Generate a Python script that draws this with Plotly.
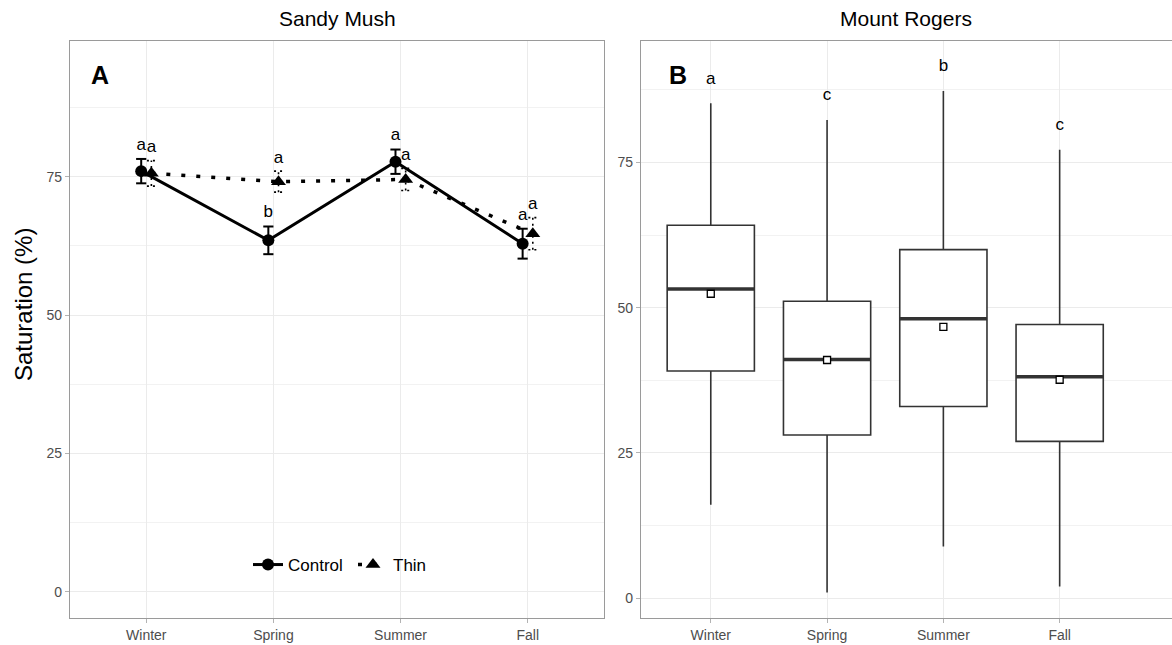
import plotly.graph_objects as go

# ---------------- data ----------------
seasons = ["Winter", "Spring", "Summer", "Fall"]

# Panel A: Sandy Mush (mean ± SE)
control_mean = [76.0, 63.5, 77.7, 62.9]
control_se = [2.2, 2.5, 2.2, 2.7]
control_letters = ["a", "b", "a", "a"]
thin_mean = [75.6, 74.1, 74.5, 64.7]
thin_se = [2.3, 1.9, 2.0, 2.9]
thin_letters = ["a", "a", "a", "a"]

# Panel B: Mount Rogers (box stats)
box_lower = [16.1, 1.0, 8.9, 2.0]
box_q1 = [39.1, 28.1, 33.0, 27.0]
box_median = [53.2, 41.1, 48.1, 38.1]
box_q3 = [64.2, 51.1, 60.0, 47.1]
box_upper = [85.2, 82.3, 87.3, 77.2]
box_mean = [52.4, 41.0, 46.7, 37.6]
box_letters = ["a", "c", "b", "c"]

# ---------------- layout constants ----------------
W, H = 1172, 645
FONT = "Liberation Sans, Arial, sans-serif"
DARK = "#333333"
GRID = "#ebebeb"
BORDER = "#9a9a9a"
TICKC = "#4d4d4d"
pos = list(range(len(seasons)))
dodge = 0.04
box_w = 0.75

ctrl_x = [p - dodge for p in pos]
thin_x = [p + dodge for p in pos]


def errbar_path(xs, ms, ses, cap):
    px, py = [], []
    for x, m, s in zip(xs, ms, ses):
        px += [x, x, None, x - cap, x + cap, None, x - cap, x + cap, None]
        py += [m - s, m + s, None, m + s, m + s, None, m - s, m - s, None]
    return px, py


fig = go.Figure()

# ---- Panel A ----
ex, ey = errbar_path(thin_x, thin_mean, thin_se, 0.035)
fig.add_trace(go.Scatter(x=ex, y=ey, mode="lines", line=dict(color="black", width=1.6, dash="2px,4px"),
                         showlegend=False, hoverinfo="skip", xaxis="x", yaxis="y"))
ex, ey = errbar_path(ctrl_x, control_mean, control_se, 0.04)
fig.add_trace(go.Scatter(x=ex, y=ey, mode="lines", line=dict(color="black", width=2),
                         showlegend=False, hoverinfo="skip", xaxis="x", yaxis="y"))

fig.add_trace(go.Scatter(x=thin_x, y=thin_mean, mode="lines+markers", name="Thin",
                         line=dict(color="black", width=3.5, dash="4px,11px"),
                         marker=dict(symbol="triangle-up", size=13, color="black"),
                         xaxis="x", yaxis="y"))
fig.add_trace(go.Scatter(x=ctrl_x, y=control_mean, mode="lines+markers", name="Control",
                         line=dict(color="black", width=3),
                         marker=dict(symbol="circle", size=12, color="black"),
                         xaxis="x", yaxis="y"))

fig.add_trace(go.Scatter(x=ctrl_x, y=[m + s + 2.4 for m, s in zip(control_mean, control_se)],
                         mode="text", text=control_letters, textposition="middle center",
                         textfont=dict(size=17, color="black", family=FONT),
                         showlegend=False, hoverinfo="skip", xaxis="x", yaxis="y"))
fig.add_trace(go.Scatter(x=thin_x, y=[m + s + 2.3 for m, s in zip(thin_mean, thin_se)],
                         mode="text", text=thin_letters, textposition="middle center",
                         textfont=dict(size=17, color="black", family=FONT),
                         showlegend=False, hoverinfo="skip", xaxis="x", yaxis="y"))

# ---- Panel B ----
fig.add_trace(go.Box(x=pos, q1=box_q1, median=box_median, q3=box_q3,
                     lowerfence=box_lower, upperfence=box_upper,
                     width=box_w, whiskerwidth=0, fillcolor="white",
                     line=dict(color=DARK, width=1.6), boxpoints=False,
                     showlegend=False, hoverinfo="skip", xaxis="x2", yaxis="y2"))
mx, my = [], []
for p, m in zip(pos, box_median):
    mx += [p - box_w / 2, p + box_w / 2, None]
    my += [m, m, None]
fig.add_trace(go.Scatter(x=mx, y=my, mode="lines", line=dict(color=DARK, width=3.5),
                         showlegend=False, hoverinfo="skip", xaxis="x2", yaxis="y2"))
fig.add_trace(go.Scatter(x=pos, y=box_mean, mode="markers",
                         marker=dict(symbol="square", size=7, color="white",
                                     line=dict(color="black", width=1.3)),
                         showlegend=False, hoverinfo="skip", xaxis="x2", yaxis="y2"))
fig.add_trace(go.Scatter(x=pos, y=[u + 4.1 for u in box_upper], mode="text", text=box_letters,
                         textposition="middle center",
                         textfont=dict(size=17, color="black", family=FONT),
                         showlegend=False, hoverinfo="skip", xaxis="x2", yaxis="y2"))

# ---------------- axes ----------------
ydom = [(H - 618) / H, (H - 41) / H]
xdom1 = [70 / W, 604 / W]
xdom2 = [641 / W, 1.0]

common_x = dict(tickvals=pos, ticktext=seasons, showgrid=True, gridcolor=GRID, gridwidth=1,
                zeroline=False, showline=True, linecolor=BORDER, linewidth=1.3,
                ticks="outside", ticklen=4, tickcolor="#b3b3b3",
                tickfont=dict(size=14, color=TICKC, family=FONT), automargin=False, fixedrange=True)
common_y = dict(tickvals=[0, 25, 50, 75], showgrid=True, gridcolor=GRID, gridwidth=1,
                zeroline=False, showline=True, linecolor=BORDER, linewidth=1.3,
                ticks="outside", ticklen=4, tickcolor="#b3b3b3",
                tickfont=dict(size=14, color=TICKC, family=FONT), automargin=False,
                minor=dict(tickvals=[12.5, 37.5, 62.5, 87.5], showgrid=True,
                           gridcolor="#f2f2f2", gridwidth=0.8, ticks=""),
                fixedrange=True)

fig.update_layout(
    width=W, height=H,
    margin=dict(l=0, r=0, t=0, b=0),
    paper_bgcolor="white", plot_bgcolor="white",
    font=dict(family=FONT, color="black"),
    xaxis=dict(common_x, domain=xdom1, range=[-0.6, 3.6], mirror=True, anchor="y"),
    yaxis=dict(common_y, domain=ydom, range=[-4.7, 99.5], mirror=True, anchor="x"),
    xaxis2=dict(common_x, domain=xdom2, range=[-0.6, 3.966], mirror=True, anchor="y2"),
    yaxis2=dict(common_y, domain=ydom, range=[-3.4, 95.9], mirror=False, anchor="x2"),
    legend=dict(orientation="h", x=353 / W, xanchor="center", y=(H - 565) / H, yanchor="middle",
                font=dict(size=17, color="black", family=FONT), traceorder="reversed",
                bgcolor="rgba(0,0,0,0)", entrywidth=60, entrywidthmode="pixels"),
    showlegend=True,
    annotations=[
        dict(text="Sandy Mush", x=337 / W, y=(H - 18) / H, xref="paper", yref="paper",
             showarrow=False, font=dict(size=21, color="black"), xanchor="center", yanchor="middle"),
        dict(text="Mount Rogers", x=906 / W, y=(H - 18) / H, xref="paper", yref="paper",
             showarrow=False, font=dict(size=21, color="black"), xanchor="center", yanchor="middle"),
        dict(text="Saturation (%)", x=24 / W, y=(H - 305) / H, xref="paper", yref="paper",
             showarrow=False, textangle=-90, font=dict(size=24, color="black"),
             xanchor="center", yanchor="middle"),
        dict(text="<b>A</b>", x=100 / W, y=(H - 75) / H, xref="paper", yref="paper",
             showarrow=False, font=dict(size=25, color="black"), xanchor="center", yanchor="middle"),
        dict(text="<b>B</b>", x=678 / W, y=(H - 75) / H, xref="paper", yref="paper",
             showarrow=False, font=dict(size=25, color="black"), xanchor="center", yanchor="middle"),
    ],
)

fig.write_html("out.html")
